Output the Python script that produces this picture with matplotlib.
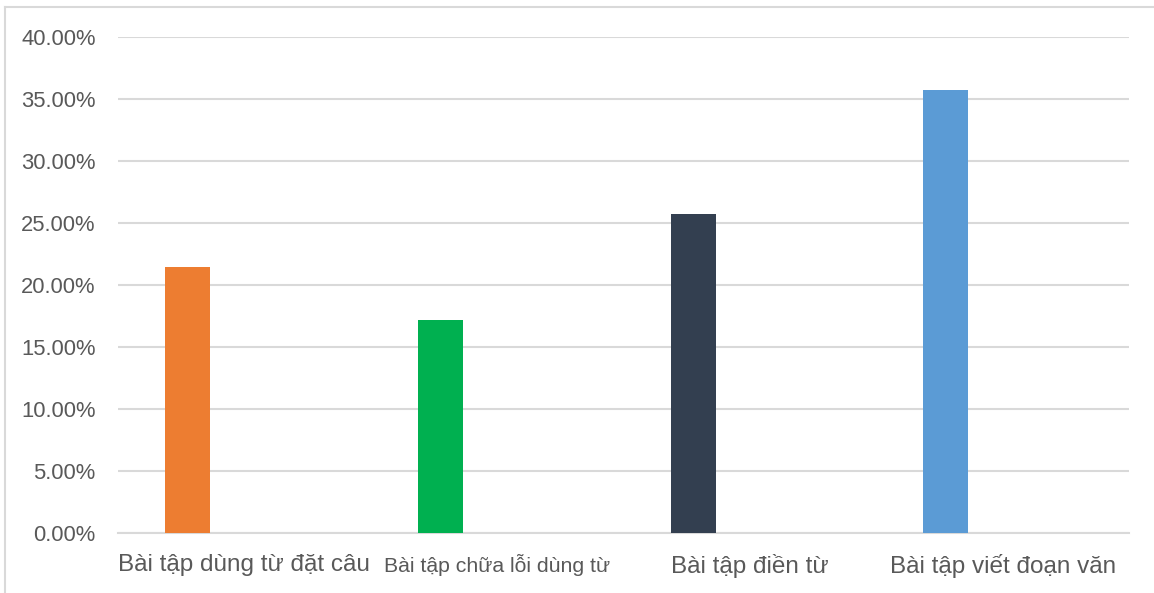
import matplotlib.pyplot as plt
from matplotlib.lines import Line2D
import numpy as np

# Data
categories = ['Bài tập dùng từ đặt câu', 'Bài tập chữa lỗi dùng từ',
              'Bài tập điền từ', 'Bài tập viết đoạn văn']
values = [21.43, 17.14, 25.71, 35.71]
colors = ['#ED7D31', '#00B050', '#333F50', '#5B9BD5']
yticks = [0, 5, 10, 15, 20, 25, 30, 35, 40]

plt.rcParams['font.family'] = ['Liberation Sans', 'DejaVu Sans']

fig = plt.figure(figsize=(11.54, 5.93), dpi=100)
ax = fig.add_axes([118 / 1154, 1 - 533 / 593, (1129 - 118) / 1154, (533 - 37) / 593])

x = np.arange(len(categories))
ax.bar(x - 0.225, values, width=0.178, color=colors, zorder=3)

ax.set_xlim(-0.5, len(categories) - 0.5)
ax.set_ylim(0, 40)
ax.set_yticks(yticks)
ax.set_yticklabels([f'{v:.2f}%' for v in yticks])
ax.set_xticks(x)
ax.set_xticklabels(categories)

ax.grid(axis='y', color='#D9D9D9', linewidth=1.5, zorder=0)
for s in ['top', 'right', 'left']:
    ax.spines[s].set_visible(False)
ax.spines['bottom'].set_color('#D9D9D9')
ax.spines['bottom'].set_linewidth(1.5)
ax.tick_params(axis='y', length=0, pad=16, labelsize=15.8, labelcolor='#595959')
ax.tick_params(axis='x', length=0, pad=15, labelsize=17.5, labelcolor='#595959')
ax.get_xticklabels()[1].set_fontsize(15.3)

# outer chart border (left and top edges visible)
fig.add_artist(Line2D([5 / 1154, 5 / 1154], [0, 1 - 7 / 593], color='#D9D9D9', lw=1.5))
fig.add_artist(Line2D([5 / 1154, 1], [1 - 7 / 593, 1 - 7 / 593], color='#D9D9D9', lw=1.5))

fig.savefig('out.png', dpi=100)
plt.close(fig)
